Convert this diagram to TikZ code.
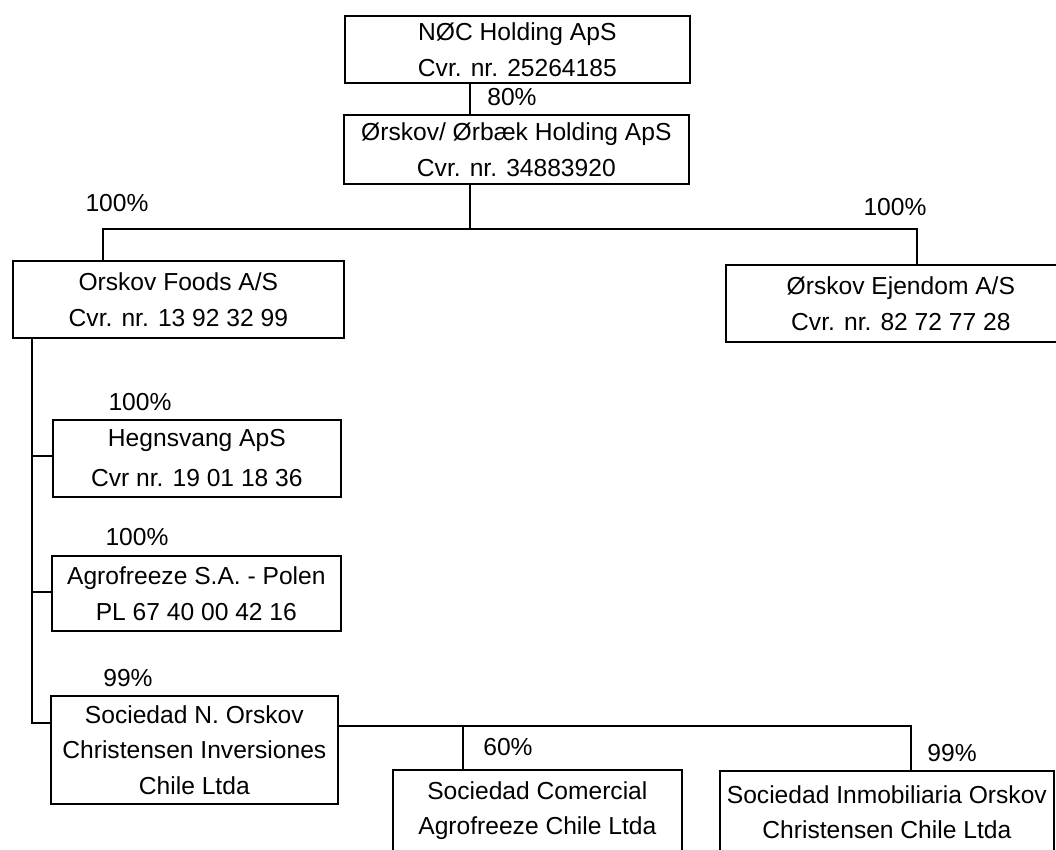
\documentclass[tikz,border=0pt]{standalone}
\usepackage{fontspec}
\setmainfont{Liberation Sans}
\begin{document}
\begin{tikzpicture}[x=1pt,y=-1pt,
  box/.style={draw=black, line width=1.7pt, anchor=north west, inner sep=0pt, align=center,
    font=\fontsize{24.6}{36}\selectfont},
  pct/.style={inner sep=0pt, font=\fontsize{24.6}{28}\selectfont},
  conn/.style={draw=black, line width=1.7pt}]
\clip (0,0) rectangle (1056,849);
\fill[white] (0,0) rectangle (1056,849);
% boxes
\node[box, minimum width=345pt, minimum height=67pt] (noc) at (344,15) {NØC Holding ApS\\Cvr. nr. 25264185};
\node[box, minimum width=345pt, minimum height=69pt] (orb) at (343,114) {Ørskov/ Ørbæk Holding ApS\\Cvr. nr. 34883920};
\node[box, minimum width=331pt, minimum height=77pt] (foods) at (12,260) {Orskov Foods A/S\\Cvr. nr. 13 92 32 99};
\node[box, minimum width=350pt, minimum height=77pt] (ejen) at (725,264) {Ørskov Ejendom A/S\\Cvr. nr. 82 72 77 28};
\node[box, minimum width=288pt, minimum height=77pt] (heg) at (52,419) {Hegnsvang ApS\\[4pt]Cvr nr. 19 01 18 36};
\node[box, minimum width=289pt, minimum height=75pt] (agro) at (51,555) {Agrofreeze S.A. - Polen\\PL 67 40 00 42 16};
\node[box, minimum width=287pt, minimum height=108pt] (socn) at (50,695) {Sociedad N. Orskov\\[-1pt]Christensen Inversiones\\Chile Ltda};
\node[box, minimum width=289pt, minimum height=82pt] (com) at (392,769) {Sociedad Comercial\\[-1pt]Agrofreeze Chile Ltda};
\node[box, minimum width=334pt, minimum height=82pt] (inm) at (719,770) {Sociedad Inmobiliaria Orskov\\[-1pt]Christensen Chile Ltda};
% junction coordinates
\coordinate (t1) at (470,229);
\coordinate (tl) at (103,229);
\coordinate (tr) at (917,229);
\coordinate (s1) at (32,456);
\coordinate (s2) at (32,592);
\coordinate (s3) at (32,723);
\coordinate (r0) at (337,726);
\coordinate (r1) at (911,726);
\coordinate (r2) at (463,726);
% connectors
\draw[conn] (noc.south -| t1) -- (orb.north -| t1);
\draw[conn] (orb.south -| t1) -- (t1);
\draw[conn] (foods.north -| tl) -- (tl) -- (tr) -- (ejen.north -| tr);
\draw[conn] (foods.south -| s3) -- (s3) -- (s3 -| socn.west);
\draw[conn] (s1) -- (s1 -| heg.west);
\draw[conn] (s2) -- (s2 -| agro.west);
\draw[conn] (r0 -| socn.east) -- (r1) -- (r1 |- inm.north);
\draw[conn] (r2) -- (r2 |- com.north);
% percentages
\node[pct] (p80) at (512,97) {80\%};
\node[pct] (pl) at (117,203) {100\%};
\node[pct] (pr) at (895,207) {100\%};
\node[pct] (ph) at (140,402) {100\%};
\node[pct] (pa) at (137,537) {100\%};
\node[pct] (ps) at (128,678) {99\%};
\node[pct] (pc) at (508,747) {60\%};
\node[pct] (pi) at (952,753) {99\%};
\end{tikzpicture}
\end{document}
